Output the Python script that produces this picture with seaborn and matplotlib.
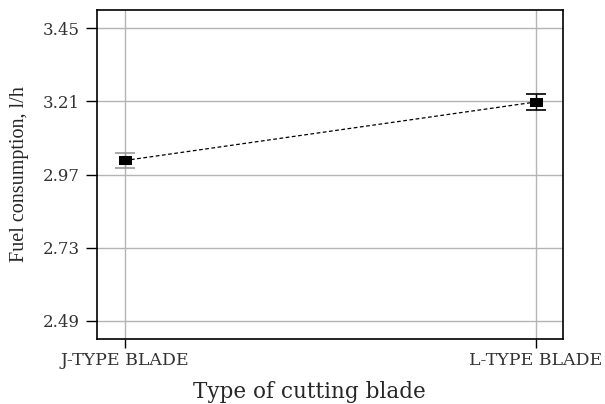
import pandas as pd
import matplotlib.pyplot as plt
import seaborn as sns
import numpy as np

blades = ['J-TYPE BLADE', 'L-TYPE BLADE']
fuel = [3.016, 3.208]
fuel_err = [0.026, 0.027]
err_colors = ['#999999', 'black']
yticks = [2.49, 2.73, 2.97, 3.21, 3.45]

sns.set_style('white')
plt.rcParams['font.family'] = ['DejaVu Serif']

df = pd.DataFrame({'blade': blades, 'fuel': fuel, 'pos': np.arange(len(blades))})

fig = plt.figure(figsize=(6.05, 4.04), dpi=100)
ax = fig.add_axes([0.160, 0.161, 0.771, 0.814])

# grid at ticks
for y in yticks:
    ax.axhline(y, color='#b4b4b4', lw=1, zorder=0)
for x in df['pos']:
    ax.axvline(x, color='#b4b4b4', lw=1, zorder=0)

# wide, flat square marker like the original
box = [(-1.0, -0.64), (1.0, -0.64), (1.0, 0.64), (-1.0, 0.64), (-1.0, -0.64)]
sns.lineplot(data=df, x='pos', y='fuel', ax=ax, color='black', lw=0.9,
             linestyle=(0, (3, 2)), marker=box, markersize=8, markeredgecolor='black',
             zorder=3)
for i in range(len(blades)):
    ax.errorbar(df['pos'][i], fuel[i], yerr=fuel_err[i], fmt='none',
                ecolor=err_colors[i], elinewidth=1, capsize=7.5, capthick=1.2, zorder=2)

ax.set_xlim(-0.068, 1.066)
ax.set_ylim(2.431, 3.509)
ax.set_yticks(yticks)
ax.set_yticklabels(['%.2f' % v for v in yticks])
ax.set_xticks(df['pos'])
ax.set_xticklabels(blades)
ax.tick_params(axis='both', which='major', direction='out', width=1,
               color='black', labelcolor='#333333', bottom=True, left=True)
ax.tick_params(axis='y', labelsize=12, pad=4, length=8)
ax.tick_params(axis='x', labelsize=12.5, pad=3, length=6.5)
for s in ax.spines.values():
    s.set_color('black')
    s.set_linewidth(1.2)

ax.set_xlabel('Type of cutting blade', fontsize=15.5)
ax.xaxis.set_label_coords(0.455, -0.127)
ax.set_ylabel('Fuel consumption, l/h', fontsize=14.5, labelpad=10,
              family='Liberation Serif')

fig.savefig('out.png', dpi=100)
